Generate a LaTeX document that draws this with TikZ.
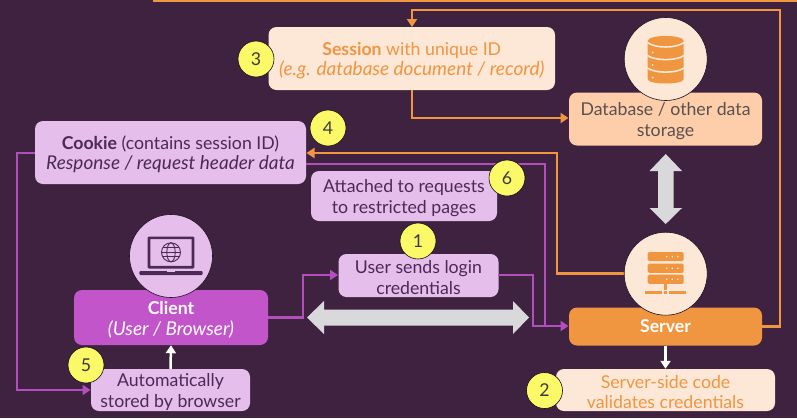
\documentclass[tikz,border=0pt]{standalone}
\usepackage{fontspec}
\setmainfont{Lato}
\usetikzlibrary{arrows.meta,calc,shapes.arrows}
\definecolor{bgc}{HTML}{3F2240}
\definecolor{lilac}{HTML}{E6BEEB}
\definecolor{violet}{HTML}{C155C9}
\definecolor{vline}{HTML}{B24FBC}
\definecolor{orng}{HTML}{F09540}
\definecolor{peach}{HTML}{FDE7D7}
\definecolor{peachd}{HTML}{FDCEA9}
\definecolor{yel}{HTML}{FBF968}
\definecolor{dk}{HTML}{4B2A55}
\definecolor{gr}{HTML}{595050}
\definecolor{bigg}{HTML}{D9D9DB}
\newcommand{\itx}[1]{{\fontsize{19}{20.5}\selectfont\itshape #1}}
\tikzset{
 x=1pt,y=-1pt,
 box/.style={rectangle,rounded corners=8pt,inner sep=0pt,align=center,font=\fontsize{17.7}{20.5}\selectfont},
 twoline/.style={box,execute at begin node={\rule{0pt}{38pt}}},
 lilacbox/.style={twoline,fill=lilac,text=dk},
 peachbox/.style={twoline,fill=peach,text=orng},
 disc/.style={circle,inner sep=0pt,minimum size=83pt,draw=black!55!bgc,line width=.6pt},
 badge/.style={circle,inner sep=0pt,minimum size=36pt,fill=yel,draw=black!70!bgc,line width=.6pt,text=gr!70!black,font=\fontsize{17.7}{20}\selectfont},
 oline/.style={draw=orng,line width=2.5pt},
 pline/.style={draw=vline,line width=2.5pt},
 wline/.style={draw=white,line width=2.5pt},
 tip/.style={-{Triangle[length=8pt,width=10pt]}},
 bigarrow/.style={fill=bigg,draw=none},
}
\begin{document}
\begin{tikzpicture}
\useasboundingbox (0,0) rectangle (797,418);
\fill[bgc] (0,0) rectangle (797,418);
% boxes
\node[peachbox,minimum width=286.5pt,minimum height=63pt] (session) at (411.75,58.5) {\textbf{Session} with unique ID\\\itx{(e.g. database document / record)}};
\node[twoline,fill=peachd,text=gr,minimum width=193pt,minimum height=53pt] (db) at (665.5,119) {Database / other data\\storage};
\node[lilacbox,minimum width=271pt,minimum height=63pt] (cookie) at (170.5,152.5) {\textbf{Cookie} (contains session ID)\\\itx{Response / request header data}};
\node[lilacbox,minimum width=186pt,minimum height=50pt] (attached) at (404,196) {Attached to requests\\to restricted pages};
\node[lilacbox,minimum width=160pt,minimum height=43pt] (user) at (418.5,275.5) {User sends login\\credentials};
\node[twoline,fill=violet,text=white,minimum width=194pt,minimum height=55pt] (client) at (171,317.5) {\textbf{Client}\\\itx{(User / Browser)}};
\node[lilacbox,minimum width=159pt,minimum height=42pt] (auto) at (170.5,390) {Automatically\\stored by browser};
\node[box,fill=orng,text=white,minimum width=193pt,minimum height=38pt] (server) at (665.5,326.5) {\textbf{Server}};
\node[peachbox,minimum width=219pt,minimum height=42pt] (code) at (665.5,390) {Server-side code\\validates credentials};
% connector anchors
\coordinate (dbdc) at (665.7,59);
\coordinate (srvdc) at (665.7,273.7);
\coordinate (topa) at (153,0.5);
\coordinate (topb) at (797,0.5);
\coordinate (sessIn) at (412,27);
\coordinate (sessOut) at (412,90);
\coordinate (cookieIn) at (306.5,153);
\coordinate (cookieOut) at (306,164);
\coordinate (cookieLeft) at (35,153);
\coordinate (dbIn) at (568.5,118);
\coordinate (srvIn) at (568.5,326);
\coordinate (userIn) at (338,275);
\coordinate (userOut) at (498,275);
\coordinate (autoIn) at (90.5,390);
% connectors
\draw[oline] (topa) -- (topb);
\draw[oline,tip] (server.east) -- ++(18,0) |- (412,10) -- (sessIn);
\draw[oline,tip] (sessOut) |- (dbIn);
\draw[oline,tip] (srvdc) -- (557,273.7) |- (cookieIn);
\draw[pline] (cookieOut) -| (545,326);
\draw[pline,tip] (cookieLeft) -- (17,153) |- (autoIn);
\draw[pline,tip] (client.east) -- (303,317.5) |- (userIn);
\draw[pline,tip] (userOut) -- (533,275) |- (srvIn);
\draw[wline,tip] (auto.north) -- (client.south);
\draw[wline,tip] (server.south) -- (code.north);
% discs
\node[disc,fill=peach] (dbdisc) at (dbdc) {};
\node[disc,fill=peach] (srvdisc) at (srvdc) {};
\node[disc,fill=lilac] (clidisc) at (171,256) {};
% big double arrows
\fill[bigarrow] (307,317.5) -- (324,301) -- (324,309.5) -- (513,309.5) -- (513,301) -- (529,317.5) -- (513,334) -- (513,325.5) -- (324,325.5) -- (324,334) -- cycle;
\fill[bigarrow] (665.7,154) -- (682,171) -- (673.5,171) -- (673.5,208) -- (682,208) -- (665.7,224) -- (649.5,208) -- (658,208) -- (658,171) -- (649.5,171) -- cycle;
% database icon
\begin{scope}[shift={(665.7,59)}]
 \fill[orng] (-18,-18) .. controls (-18,-24.7) and (18,-24.7) .. (18,-18) -- (18,20) .. controls (18,26) and (-18,26) .. (-18,20) -- cycle;
 \draw[peach,line width=1.6pt] (-18.5,-16.5) .. controls (-10,-10.5) and (10,-10.5) .. (18.5,-16.5);
 \draw[peach,line width=1.6pt] (-18.5,-3.5) .. controls (-10,2) and (10,2) .. (18.5,-3.5);
 \draw[peach,line width=1.6pt] (-18.5,9) .. controls (-10,14.5) and (10,14.5) .. (18.5,9);
 \fill[peach] (-13,-6.7) circle (1); \fill[peach] (-13,6) circle (1); \fill[peach] (-13,18.7) circle (1);
\end{scope}
% server icon
\begin{scope}[shift={(665.7,273.7)}]
 \foreach \yy in {-21.7,-10,1}{
  \fill[orng,rounded corners=1.5pt] (-18,\yy) rectangle (18,\yy+9.2);
  \foreach \xx in {1,6.6,12}{\fill[peach] (\xx,\yy+4.6) circle (.9);}
 }
 \fill[orng] (-1.5,10) rectangle (1.5,16);
 \fill[orng] (-20.7,17) rectangle (-4,20.3);
 \fill[orng] (-1.7,17) rectangle (1.7,20.3);
 \fill[orng] (3.7,17) rectangle (20.3,20.3);
\end{scope}
% client icon
\begin{scope}[shift={(171,256)}]
 \draw[dk,line width=2.6pt,rounded corners=.5pt] (-22,-18.2) rectangle (22,11.2);
 \fill[dk,rounded corners=1pt] (-31.7,15) rectangle (31.7,19);
 \fill[lilac] (-4,15) rectangle (4,16);
 \draw[dk,line width=.9pt] (0,-3.7) circle (9.5);
 \draw[dk,line width=.9pt] (0,-3.7) ellipse (4.2 and 9.5);
 \draw[dk,line width=.9pt] (-9.5,-3.7) -- (9.5,-3.7) (-8.3,-8.2) -- (8.3,-8.2) (-8.3,.8) -- (8.3,.8);
\end{scope}
% badges
\node[badge] (b3) at (256,59) {3};
\node[badge] (b4) at (328,128) {4};
\node[badge] (b6) at (507,178) {6};
\node[badge] (b1) at (418,241) {1};
\node[badge] (b5) at (86,365) {5};
\node[badge] (b2) at (544.5,390.5) {2};
\end{tikzpicture}
\end{document}
